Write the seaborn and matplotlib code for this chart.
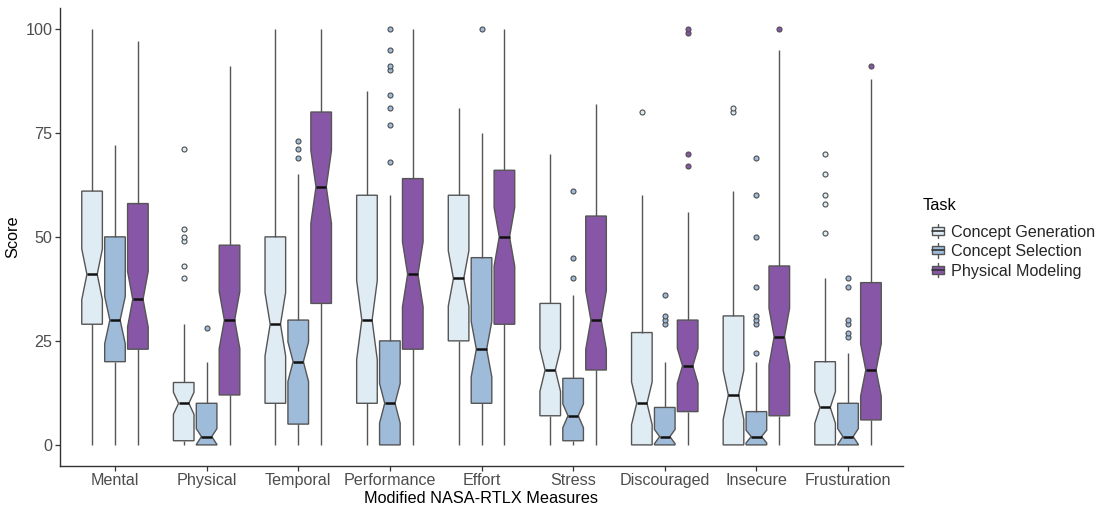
import numpy as np
import pandas as pd
import matplotlib
matplotlib.use("Agg")
import matplotlib.pyplot as plt
import seaborn as sns
from matplotlib.patches import Patch, Rectangle
from matplotlib.lines import Line2D
from matplotlib.legend_handler import HandlerBase

# ---------------- data ----------------
measures = ["Mental", "Physical", "Temporal", "Performance", "Effort",
            "Stress", "Discouraged", "Insecure", "Frusturation"]
tasks = ["Concept Generation", "Concept Selection", "Physical Modeling"]
n_obs = 68  # observations per box (estimated from notch widths)

# Concept Generation
cg_lo = [0, 0, 0, 0, 0, 0, 0, 0, 0]
cg_q1 = [29, 1, 10, 10, 25, 7, 0, 0, 0]
cg_med = [41, 10, 29, 30, 40, 18, 10, 12, 9]
cg_q3 = [61, 15, 50, 60, 60, 34, 27, 31, 20]
cg_hi = [100, 29, 100, 85, 81, 70, 60, 61, 40]
cg_out = [[], [71, 52, 50, 49, 43, 40], [], [], [], [], [80], [81, 80],
          [70, 65, 60, 58, 51]]

# Concept Selection
cs_lo = [0, 0, 0, 0, 0, 0, 0, 0, 0]
cs_q1 = [20, 0, 5, 0, 10, 1, 0, 0, 0]
cs_med = [30, 2, 20, 10, 23, 7, 2, 2, 2]
cs_q3 = [50, 10, 30, 25, 45, 16, 9, 8, 10]
cs_hi = [72, 20, 65, 60, 75, 36, 20, 20, 22]
cs_out = [[], [28], [73, 71, 69], [100, 95, 91, 90, 84, 81, 77, 68], [100],
          [61, 45, 40], [36, 31, 30, 29], [69, 60, 50, 38, 31, 30, 29, 22],
          [40, 38, 30, 29, 27, 26]]

# Physical Modeling
pm_lo = [0, 0, 0, 0, 0, 0, 0, 0, 0]
pm_q1 = [23, 12, 34, 23, 29, 18, 8, 7, 6]
pm_med = [35, 30, 62, 41, 50, 30, 19, 26, 18]
pm_q3 = [58, 48, 80, 64, 66, 55, 30, 43, 39]
pm_hi = [97, 91, 100, 100, 100, 82, 56, 95, 88]
pm_out = [[], [], [], [], [], [], [100, 99, 70, 67], [100], [91]]

palette = {"Concept Generation": "#E0ECF4",
           "Concept Selection": "#9EBCDA",
           "Physical Modeling": "#8856A7"}


def sample_from_summary(lo, q1, med, q3, hi, out, n):
    """Score sample whose five-number summary and outliers match the chart."""
    p = len(out)
    vals = []
    for i in range(n):
        if i == 0:
            vals.append(lo)
        elif i < n * 3 / 8:
            vals.append(q1)
        elif i < n * 5 / 8:
            vals.append(med)
        elif i < n - 1 - p:
            vals.append(q3)
        elif i == n - 1 - p:
            vals.append(hi)
    vals.extend(sorted(out))
    return vals


summaries = {
    "Concept Generation": (cg_lo, cg_q1, cg_med, cg_q3, cg_hi, cg_out),
    "Concept Selection": (cs_lo, cs_q1, cs_med, cs_q3, cs_hi, cs_out),
    "Physical Modeling": (pm_lo, pm_q1, pm_med, pm_q3, pm_hi, pm_out),
}

rows = []
for task in tasks:
    lo, q1, med, q3, hi, out = summaries[task]
    for j, m in enumerate(measures):
        for v in sample_from_summary(lo[j], q1[j], med[j], q3[j], hi[j], out[j], n_obs):
            rows.append((m, task, v))
df = pd.DataFrame(rows, columns=["Measure", "Task", "Score"])

# ---------------- plotting ----------------
sns.set_theme(style="white")
plt.rcParams["font.family"] = ["Liberation Sans", "DejaVu Sans"]

fig = plt.figure(figsize=(11.04, 5.09), dpi=100)
ax = fig.add_axes([60 / 1104, 1 - 465.7 / 509, (903 - 60) / 1104, (465.7 - 8) / 509])

edge = "#555555"
sns.boxplot(data=df, x="Measure", y="Score", hue="Task", order=measures,
            hue_order=tasks, palette=palette, saturation=1, notch=True,
            width=0.75, gap=0.1, whis=1.5, showcaps=False, ax=ax,
            legend=False, linecolor=edge, linewidth=1.0,
            medianprops=dict(color="#111111", linewidth=1.8),
            whiskerprops=dict(color=edge, linewidth=1.0),
            flierprops=dict(marker="o", markersize=3.6, markeredgewidth=0.8,
                            markeredgecolor="#4d4d4d", linestyle="none"))

# flier faces take the box colour of their task
for cont, task in zip([c for c in ax.containers if hasattr(c, "fliers")], tasks):
    for fl in cont.fliers:
        fl.set_markerfacecolor(palette[task])
        fl.set_markeredgecolor("#4d4d4d")

ax.set_xlim(-0.6, len(measures) - 0.4)
ax.set_ylim(-5, 105)
ax.set_yticks([0, 25, 50, 75, 100])
ax.set_yticklabels(["0", "25", "50", "75", "100"])
ax.grid(False)
for s in ["top", "right"]:
    ax.spines[s].set_visible(False)
for s in ["left", "bottom"]:
    ax.spines[s].set_color("#333333")
    ax.spines[s].set_linewidth(1.0)
ax.tick_params(axis="both", which="both", direction="out", length=3.5,
               width=0.9, color="#333333", labelcolor="#4D4D4D",
               labelsize=11.6, pad=2, left=True, bottom=True)
ax.set_xlabel("Modified NASA-RTLX Measures", fontsize=11.7, color="black", labelpad=2)
ax.set_ylabel("Score", fontsize=11.7, color="black", labelpad=4)


class BoxKey(HandlerBase):
    """Legend key drawn as a small boxplot glyph."""
    def create_artists(self, legend, orig, xdescent, ydescent, width, height,
                       fontsize, trans):
        fc = orig.get_facecolor()
        cx = width / 2 - xdescent
        y0 = -ydescent
        whisk = Line2D([cx, cx], [y0 - 0.15 * height, y0 + 1.15 * height],
                       color=edge, lw=1.0, transform=trans)
        bw = width * 0.75
        rect = Rectangle((cx - bw / 2, y0 + 0.15 * height), bw, 0.7 * height,
                         facecolor=fc, edgecolor=edge, lw=1.0, transform=trans)
        med = Line2D([cx - bw / 2, cx + bw / 2], [y0 + height / 2] * 2,
                     color="#333333", lw=1.2, transform=trans)
        return [whisk, rect, med]


handles = [Patch(facecolor=palette[t], edgecolor=edge, linewidth=1.0) for t in tasks]
fig.text(923 / 1104, 1 - 205 / 509, "Task", fontsize=11.7, color="black",
         ha="left", va="center")
leg = fig.legend(handles, tasks, loc="upper left",
                 bbox_to_anchor=(930 / 1104, 1 - 224.5 / 509), frameon=False,
                 fontsize=11.6, handler_map={Patch: BoxKey()},
                 handlelength=1.0, handleheight=0.7, labelspacing=0.28,
                 handletextpad=0.3, borderaxespad=0, borderpad=0)

fig.savefig("out.png", dpi=100)
